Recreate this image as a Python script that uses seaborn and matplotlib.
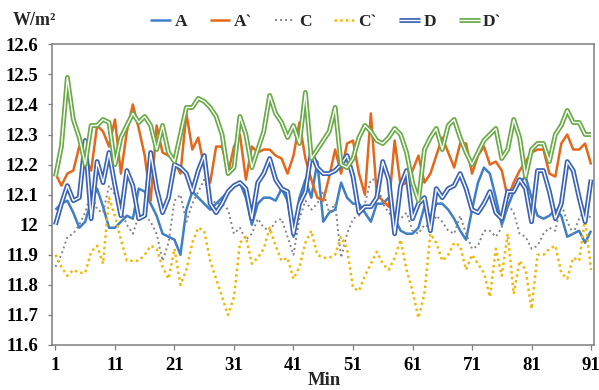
import numpy as np
import pandas as pd
import matplotlib
matplotlib.use("Agg")
import matplotlib.pyplot as plt
import matplotlib.patheffects as pe
import seaborn as sns

# ---------------- data ----------------
minutes = list(range(1, 92))

A = [12.05, 12.07, 12.08, 12.04, 11.99, 12.01, 12.08, 12.12, 12.06, 11.99,
     11.99, 12.01, 12.03, 12.02, 12.12, 12.11, 12.07, 12.03, 11.97, 11.96,
     11.95, 11.90, 12.05, 12.11, 12.09, 12.07, 12.05, 12.07, 12.09, 12.11,
     12.13, 12.14, 12.09, 12.00, 12.07, 12.09, 12.09, 12.08, 12.12, 12.08,
     11.96, 12.09, 12.15, 12.09, 12.21, 12.01, 12.04, 12.05, 12.14, 12.09,
     12.07, 12.07, 12.04, 12.01, 12.07, 12.07, 12.09, 12.02, 11.98, 11.97,
     11.97, 11.99, 12.06, 12.02, 12.07, 12.07, 12.05, 12.02, 11.98, 11.95,
     12.05, 12.14, 12.19, 12.17, 12.09, 12.00, 12.06, 12.11, 12.14, 12.16,
     12.09, 12.03, 12.02, 12.03, 12.05, 12.03, 11.96, 11.97, 11.98, 11.94, 11.98]

A_prime = [12.17, 12.13, 12.17, 12.18, 12.26, 12.22, 12.18, 12.33, 12.31, 12.26,
           12.35, 12.17, 12.31, 12.40, 12.32, 12.23, 12.08, 12.33, 12.24, 12.23,
           12.21, 12.17, 12.37, 12.25, 12.29, 12.19, 12.14, 12.26, 12.26, 12.17,
           12.26, 12.30, 12.15, 12.26, 12.24, 12.25, 12.25, 12.23, 12.22, 12.17,
           12.23, 12.34, 12.22, 12.15, 12.09, 12.08, 12.16, 12.25, 12.17, 12.27,
           12.28, 12.17, 12.10, 12.37, 12.10, 12.08, 12.06, 12.28, 12.13, 12.14,
           12.18, 12.23, 12.14, 12.17, 12.23, 12.29, 12.24, 12.19, 12.27, 12.27,
           12.17, 12.23, 12.26, 12.20, 12.21, 12.18, 12.09, 12.14, 12.18, 12.21,
           12.24, 12.25, 12.25, 12.17, 12.16, 12.27, 12.30, 12.25, 12.25, 12.27, 12.20]

C = [11.86, 11.90, 11.96, 11.97, 12.00, 12.04, 12.11, 12.05, 12.04, 12.13,
     12.10, 12.05, 12.00, 11.97, 12.03, 12.03, 12.01, 11.97, 11.88, 11.94,
     12.08, 12.10, 12.01, 12.07, 12.11, 12.15, 12.09, 12.07, 12.07, 12.05,
     11.97, 11.99, 11.95, 11.97, 12.02, 11.99, 11.98, 12.01, 12.02, 11.96,
     11.90, 12.02, 12.08, 12.05, 12.07, 12.11, 12.04, 12.07, 11.89, 11.97,
     12.02, 12.03, 12.07, 12.15, 12.15, 12.07, 12.04, 12.02, 12.02, 12.04,
     11.98, 11.97, 12.00, 11.99, 12.03, 12.01, 11.98, 11.97, 12.03, 11.97,
     11.92, 11.93, 11.98, 11.98, 11.96, 11.99, 12.07, 12.04, 11.97, 11.96,
     11.92, 11.93, 11.97, 11.99, 11.98, 12.07, 12.01, 11.97, 12.02, 12.05, 12.02]

C_prime = [11.90, 11.86, 11.83, 11.85, 11.84, 11.84, 11.91, 11.93, 11.87, 12.09,
           12.03, 11.95, 11.88, 11.88, 11.88, 11.90, 11.93, 11.92, 11.86, 11.82,
           11.92, 11.80, 11.85, 11.94, 11.99, 11.98, 11.88, 11.82, 11.76, 11.70,
           11.76, 11.94, 11.96, 11.87, 11.89, 11.92, 11.99, 11.93, 11.88, 11.89,
           11.82, 11.86, 11.94, 11.98, 11.90, 11.89, 11.89, 11.90, 11.96, 11.92,
           11.79, 11.78, 11.83, 11.87, 11.91, 11.87, 11.85, 11.89, 11.95, 11.85,
           11.78, 11.69, 11.77, 11.97, 11.94, 11.88, 11.90, 11.94, 11.93, 11.85,
           11.90, 11.87, 11.84, 11.76, 11.92, 11.83, 11.97, 11.77, 11.88, 11.85,
           11.72, 11.90, 11.90, 11.92, 11.93, 11.84, 11.82, 11.89, 11.88, 12.02, 11.85]

D = [12.00, 12.07, 12.13, 12.08, 12.09, 12.28, 12.02, 12.21, 12.14, 12.24,
     12.13, 12.03, 12.18, 12.13, 12.02, 12.03, 12.24, 12.12, 12.04, 12.09,
     12.20, 12.19, 12.17, 12.11, 12.18, 12.23, 12.07, 12.04, 12.07, 12.11,
     12.13, 12.14, 12.12, 12.02, 12.14, 12.17, 12.22, 12.15, 12.12, 12.11,
     11.97, 12.07, 12.11, 12.24, 12.19, 12.17, 12.17, 12.18, 12.20, 12.23,
     12.16, 12.04, 12.06, 12.06, 12.09, 12.21, 12.15, 11.97, 12.13, 12.18,
     12.02, 12.07, 12.09, 11.98, 12.12, 12.09, 12.12, 12.13, 12.17, 12.12,
     12.05, 12.04, 12.07, 12.11, 12.04, 12.02, 12.11, 12.11, 12.15, 12.12,
     12.01, 12.18, 12.18, 12.11, 12.02, 12.07, 12.21, 12.18, 12.09, 12.01, 12.15]

D_prime = [12.16, 12.26, 12.49, 12.35, 12.29, 12.20, 12.33, 12.33, 12.35, 12.34,
           12.20, 12.29, 12.33, 12.37, 12.34, 12.36, 12.33, 12.25, 12.33, 12.24,
           12.21, 12.30, 12.39, 12.39, 12.42, 12.41, 12.39, 12.36, 12.30, 12.17,
           12.19, 12.36, 12.30, 12.19, 12.25, 12.31, 12.43, 12.37, 12.34, 12.29,
           12.33, 12.27, 12.44, 12.22, 12.25, 12.28, 12.31, 12.39, 12.20, 12.19,
           12.22, 12.29, 12.33, 12.31, 12.28, 12.27, 12.29, 12.32, 12.30, 12.24,
           12.14, 12.08, 12.25, 12.29, 12.32, 12.25, 12.33, 12.35, 12.29, 12.24,
           12.20, 12.24, 12.28, 12.30, 12.32, 12.22, 12.25, 12.35, 12.29, 12.16,
           12.25, 12.27, 12.27, 12.21, 12.30, 12.33, 12.38, 12.34, 12.34, 12.30, 12.30]

series_names = ["A", "A`", "C", "C`", "D", "D`"]
series_values = [A, A_prime, C, C_prime, D, D_prime]

x_ticks = [1, 11, 21, 31, 41, 51, 61, 71, 81, 91]
y_ticks = [11.6, 11.7, 11.8, 11.9, 12.0, 12.1, 12.2, 12.3, 12.4, 12.5, 12.6]
y_tick_labels = ["11.6", "11.7", "11.8", "11.9", "12", "12.1", "12.2",
                 "12.3", "12.4", "12.5", "12.6"]

df = pd.DataFrame({
    "Min": minutes * len(series_names),
    "value": [v for vals in series_values for v in vals],
    "series": [n for n, vals in zip(series_names, series_values) for _ in vals],
})

# ---------------- style ----------------
sns.set_theme(style="white")
plt.rcParams["font.family"] = ["Liberation Serif", "DejaVu Serif"]
plt.rcParams["font.weight"] = "bold"

fig = plt.figure(figsize=(5.99, 3.90), dpi=100)
ax = fig.add_axes([0.0876, 0.1154, 0.9041, 0.7710])

styles = {
    "A":  dict(color="#3F7FC6", lw=1.8, ls="-"),
    "A`": dict(color="#E4671C", lw=1.8, ls="-"),
    "C":  dict(color="#858585", lw=1.4, ls=(0, (1, 1.6))),
    "C`": dict(color="#F0B70C", lw=1.8, ls=(0, (1, 1.3))),
    "D":  dict(color="white", lw=1.0, ls="-",
               path_effects=[pe.Stroke(linewidth=3.5, foreground="#3A63B5"), pe.Normal()]),
    "D`": dict(color="white", lw=1.0, ls="-",
               path_effects=[pe.Stroke(linewidth=3.5, foreground="#6AAA48"), pe.Normal()]),
}

handles = []
for name in series_names:
    st = dict(styles[name])
    sub = df[df["series"] == name]
    before = len(ax.lines)
    sns.lineplot(data=sub, x="Min", y="value", ax=ax, legend=False,
                 color=st.pop("color"), linewidth=st.pop("lw"),
                 linestyle=st.pop("ls"), **st)
    line = ax.lines[before]
    line.set_label(name)
    line.set_solid_capstyle("butt")
    handles.append(line)

ax.set_xlim(0.5, 91.5)
ax.set_ylim(11.6, 12.6)
ax.set_xticks(x_ticks)
ax.set_xticklabels([str(t) for t in x_ticks])
ax.set_yticks(y_ticks)
ax.set_yticklabels(y_tick_labels)
ax.set_xlabel("")
ax.set_ylabel("")

for sp in ax.spines.values():
    sp.set_color("#7F7F7F")
    sp.set_linewidth(1.1)

ax.tick_params(axis="both", which="major", bottom=True, left=True,
               direction="out", color="#7F7F7F", width=0.9,
               labelsize=13.5, labelcolor="black")
ax.tick_params(axis="x", length=3.5, pad=5.5)
ax.tick_params(axis="y", length=3, pad=7)
for lab in ax.get_xticklabels() + ax.get_yticklabels():
    lab.set_fontweight("bold")

fig.text(0.542, 0.012, "Min", ha="center", va="baseline",
         fontsize=13.5, fontweight="bold")
fig.text(0.021, 0.947, "W/m²", ha="left", va="center",
         fontsize=13, fontweight="bold")

fig.legend(handles=handles, labels=series_names, ncol=6, loc="center",
           bbox_to_anchor=(0.544, 0.944), frameon=False,
           handlelength=1.2, handletextpad=0.2, columnspacing=1.3,
           borderpad=0.1,
           prop=dict(family="Liberation Serif", weight="bold", size=12.5))

fig.savefig("out.png", dpi=100, facecolor="white")
